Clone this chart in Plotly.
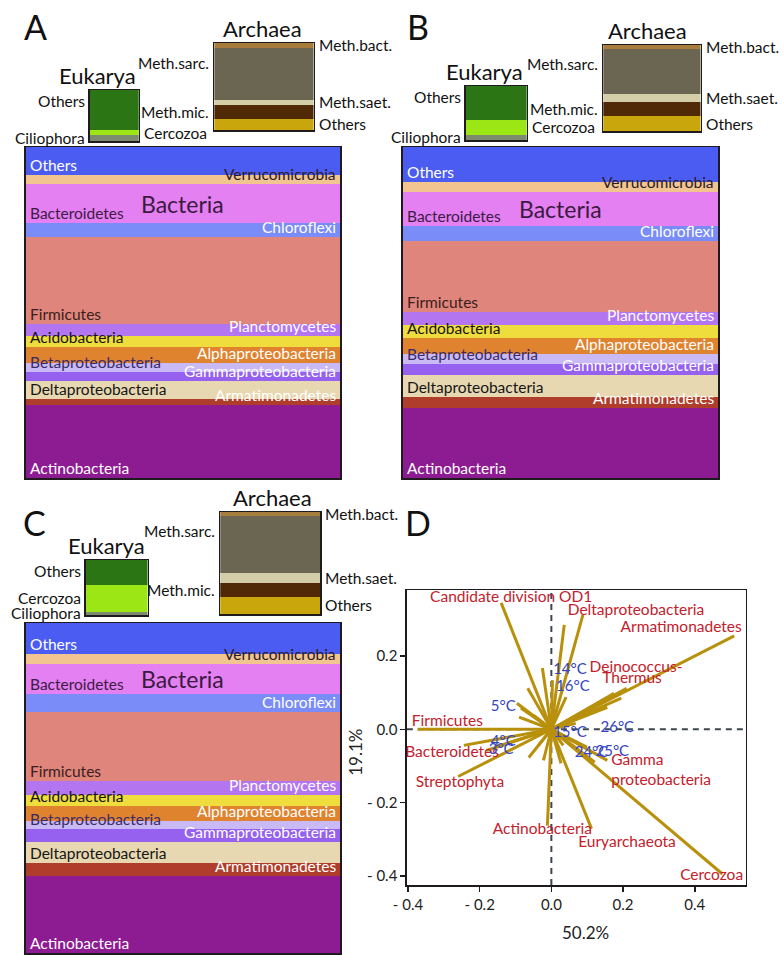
import plotly.graph_objects as go

W, H = 784, 955
FONT = "Lato"

# ---------------- data ----------------
bact_taxa = ["Others", "Verrucomicrobia", "Bacteroidetes", "Chloroflexi", "Firmicutes",
             "Planctomycetes", "Acidobacteria", "Alphaproteobacteria", "Betaproteobacteria",
             "Gammaproteobacteria", "Deltaproteobacteria", "Armatimonadetes", "Actinobacteria"]
bact_A = [8.5, 2.7, 11.8, 4.2, 26.3, 3.6, 3.3, 4.8, 2.7, 2.7, 5.4, 1.8, 22.2]
bact_B = [10.6, 3.0, 10.3, 4.5, 21.5, 3.9, 3.9, 4.8, 3.0, 3.3, 6.6, 3.6, 21.0]
bact_C = [9.4, 3.0, 9.1, 5.5, 20.9, 4.2, 3.3, 4.5, 2.4, 4.2, 6.1, 4.2, 23.2]
bact_colors = ["#4b5cf2", "#f1c490", "#e480f1", "#7a8cf8", "#e0857b", "#b475f1", "#eedd3c",
               "#e0832f", "#c9baf6", "#9561ee", "#e7d8b1", "#b03d2b", "#8d1b91"]
bact_side = ["left", "right", "left", "right", "left", "right", "left", "right", "left",
             "right", "left", "right", "left"]
bact_text_color = ["#ffffff", "#2a1a2a", "#3c1a46", "#ffffff", "#3a2020", "#ffffff", "#151515",
                   "#ffffff", "#3a2a6a", "#ffffff", "#151515", "#ffffff", "#ffffff"]

euk_taxa = ["Others", "Cercozoa", "Ciliophora"]
euk_A = [79, 10, 11]
euk_B = [63, 27, 10]
euk_C = [45, 49, 6]
euk_colors = ["#2b7515", "#9de615", "#7d8c6e"]

arch_taxa = ["Meth.bact.", "Meth.sarc.", "Meth.saet.", "Meth.mic.", "Others"]
arch_A = [5.7, 59.8, 5.7, 16.1, 12.7]
arch_B = [4.7, 52.3, 9.3, 16.3, 17.4]
arch_C = [3.9, 55.9, 9.8, 13.7, 16.7]
arch_colors = ["#a77d3d", "#6b6651", "#d3cda8", "#502906", "#c9a70c"]

# PCA biplot (panel D)
arrow_x = [-0.140, 0.088, 0.510, 0.210, -0.373, -0.244, -0.260, -0.011, 0.112, 0.477, 0.156,
           0.036, -0.025, -0.066, -0.085, -0.090, -0.096, 0.003, 0.195, 0.156, -0.181, -0.063,
           0.027, 0.099, 0.121, 0.068, 0.041, -0.159, -0.049, -0.036, 0.033, -0.022, 0.175]
arrow_y = [0.345, 0.312, 0.255, 0.112, 0.000, -0.044, -0.129, -0.263, -0.271, -0.395, -0.085,
           0.285, 0.167, 0.112, 0.058, 0.033, 0.071, 0.134, 0.085, 0.060, -0.058, -0.077,
           -0.093, -0.049, -0.090, 0.016, 0.088, -0.049, 0.038, -0.044, -0.044, -0.085, 0.098]

species_labels = ["Candidate division OD1", "Deltaproteobacteria", "Armatimonadetes",
                  "Deinococcus-", "Thermus", "Firmicutes", "Bacteroidetes", "Streptophyta",
                  "Actinobacteria", "Euryarchaeota", "Cercozoa"]
species_lx = [-0.112, 0.236, 0.362, 0.236, 0.225, -0.290, -0.277, -0.255, -0.025, 0.211, 0.447]
species_ly = [0.359, 0.321, 0.277, 0.167, 0.137, 0.019, -0.066, -0.148, -0.274, -0.310, -0.400]
gamma_labels = ["Gamma", "proteobacteria"]
gamma_lx = [0.167, 0.167]
gamma_ly = [-0.088, -0.142]

site_labels = ["14°C", "16°C", "5°C", "26°C", "15°C", "4°C", "3°C", "24°C", "25°C"]
site_x = [0.052, 0.060, -0.134, 0.184, 0.052, -0.134, -0.140, 0.112, 0.170]
site_y = [0.162, 0.115, 0.060, 0.003, -0.011, -0.036, -0.058, -0.066, -0.063]

x_ticks = [-0.4, -0.2, 0.0, 0.2, 0.4]
x_ticktext = ["- 0.4", "- 0.2", "0.0", "0.2", "0.4"]
y_ticks = [-0.4, -0.2, 0.0, 0.2]
y_ticktext = ["- 0.4", "- 0.2", "0.0", "0.2"]
x_title = "50.2%"
y_title = "19.1%"

# ---------------- layout boxes (pixels: x0, x1, y0, y1) ----------------
panels = {
    "A": dict(letter=(22, 26), euk=(77, 127, 90, 141), arch=(204, 305, 43, 130), bact=(12, 332, 147, 478),
              euk_sides=["left", "right", "left"], euk_title_dx=-17, arch_title_dx=-1),
    "B": dict(letter=(411, 26), euk=(460, 522, 86, 140), arch=(600, 699, 45, 131), bact=(396, 717, 147, 478),
              euk_sides=["left", "right", "left"], euk_title_dx=-12, arch_title_dx=-4),
    "C": dict(letter=(21, 522), euk=(73, 136, 560, 615), arch=(210, 312, 512, 614), bact=(12, 332, 623, 953),
              euk_sides=["left", "left", "left"], euk_title_dx=-10, arch_title_dx=2),
}
data_map = {"A": (bact_A, euk_A, arch_A), "B": (bact_B, euk_B, arch_B), "C": (bact_C, euk_C, arch_C)}

fig = go.Figure()
annotations = []
layout_axes = {}
counter = [0]
FRAME = "#1e1a1e"


def new_axes(box):
    counter[0] += 1
    i = counter[0]
    s = "" if i == 1 else str(i)
    x0, x1, y0, y1 = box
    return s, [x0 / W, x1 / W], [1 - y1 / H, 1 - y0 / H]


def add_stack(box, taxa, values, colors):
    s, xd, yd = new_axes(box)
    total = sum(values)
    for t, v, c in reversed(list(zip(taxa, values, colors))):
        fig.add_trace(go.Bar(x=[0], y=[v], width=1, name=t, marker=dict(color=c, line=dict(width=0)),
                             xaxis="x" + s, yaxis="y" + s, showlegend=False, hoverinfo="skip"))
    layout_axes["xaxis" + s] = dict(domain=xd, range=[-0.5, 0.5], showticklabels=False, ticks="",
                                    showgrid=False, zeroline=False, showline=True, mirror=True,
                                    linecolor=FRAME, linewidth=1.5, anchor="y" + s, fixedrange=True)
    layout_axes["yaxis" + s] = dict(domain=yd, range=[0, total], showticklabels=False, ticks="",
                                    showgrid=False, zeroline=False, showline=True, mirror=True,
                                    linecolor=FRAME, linewidth=1.5, anchor="x" + s, fixedrange=True)
    tops, acc = [], total
    for v in values:
        tops.append(acc)
        acc -= v
    bottoms = [t - v for t, v in zip(tops, values)]
    return s, tops, bottoms


def ann(text, xref, yref, x, y, size, color, xanchor="center", yanchor="middle", xshift=0, yshift=0, angle=0):
    annotations.append(dict(text=text, xref=xref, yref=yref, x=x, y=y, showarrow=False,
                            font=dict(family=FONT, size=size, color=color), xanchor=xanchor,
                            yanchor=yanchor, xshift=xshift, yshift=yshift, textangle=angle))


LBL = 15.5
for key, p in panels.items():
    bvals, evals, avals = data_map[key]
    lx, ly = p["letter"]
    ann(key, "paper", "paper", lx / W, 1 - ly / H, 34, "#111111")

    # Bacteria
    s, tops, bottoms = add_stack(p["bact"], bact_taxa, bvals, bact_colors)
    for t, side, col, b in zip(bact_taxa, bact_side, bact_text_color, bottoms):
        if side == "left":
            ann(t, "x" + s + " domain", "y" + s, 0, b, LBL, col, "left", "bottom", 2, -1)
        else:
            ann(t, "x" + s + " domain", "y" + s, 1, b, LBL, col, "right", "bottom", -2, -1)
    bi = bact_taxa.index("Bacteroidetes")
    ann("Bacteria", "x" + s + " domain", "y" + s, 0.5, (tops[bi] + bottoms[bi]) / 2, 23, "#3a1a40")

    # Eukarya
    s, tops, bottoms = add_stack(p["euk"], euk_taxa, evals, euk_colors)
    ann("Eukarya", "x" + s + " domain", "y" + s + " domain", 0.5, 1, 22, "#111111", "center", "bottom",
        p["euk_title_dx"], -1)
    for t, side, tp, b in zip(euk_taxa, p["euk_sides"], tops, bottoms):
        xa = "right" if side == "left" else "left"
        xx = 0 if side == "left" else 1
        xs = -3 if side == "left" else 3
        if t == "Others":
            ann(t, "x" + s + " domain", "y" + s, xx, tp, LBL, "#111111", xa, "top", xs, 0)
        else:
            ann(t, "x" + s + " domain", "y" + s, xx, (tp + b) / 2, LBL, "#111111", xa, "middle", xs, 0)

    # Archaea
    s, tops, bottoms = add_stack(p["arch"], arch_taxa, avals, arch_colors)
    ann("Archaea", "x" + s + " domain", "y" + s + " domain", 0.5, 1, 22, "#111111", "center", "bottom",
        p["arch_title_dx"], -1)
    arch_side = ["right", "left", "right", "left", "right"]
    for t, side, tp, b in zip(arch_taxa, arch_side, tops, bottoms):
        xa = "right" if side == "left" else "left"
        xx = 0 if side == "left" else 1
        xs = -3 if side == "left" else 3
        if t == "Meth.sarc.":
            ann(t, "x" + s + " domain", "y" + s, xx, tp, LBL, "#111111", xa, "top", xs, -4)
        else:
            ann(t, "x" + s + " domain", "y" + s, xx, (tp + b) / 2, LBL, "#111111", xa, "middle", xs, 0)

# ---------------- Panel D ----------------
s, xd, yd = new_axes((400, 745, 590, 885))
ann("D", "paper", "paper", 411 / W, 1 - 522 / H, 34, "#111111")
lx, ly = [], []
for ex, ey in zip(arrow_x, arrow_y):
    lx += [0, ex, None]
    ly += [0, ey, None]
fig.add_trace(go.Scatter(x=lx, y=ly, mode="lines", line=dict(color="#b8900c", width=3),
                         xaxis="x" + s, yaxis="y" + s, showlegend=False, hoverinfo="skip"))
fig.add_trace(go.Scatter(x=species_lx, y=species_ly, text=species_labels, mode="text",
                         textfont=dict(family=FONT, size=15.5, color="#c4202b"),
                         xaxis="x" + s, yaxis="y" + s, showlegend=False, hoverinfo="skip"))
fig.add_trace(go.Scatter(x=gamma_lx, y=gamma_ly, text=gamma_labels, mode="text", textposition="middle right",
                         textfont=dict(family=FONT, size=15.5, color="#c4202b"),
                         xaxis="x" + s, yaxis="y" + s, showlegend=False, hoverinfo="skip"))
fig.add_trace(go.Scatter(x=site_x, y=site_y, text=site_labels, mode="text",
                         textfont=dict(family=FONT, size=15, color="#3344c4"),
                         xaxis="x" + s, yaxis="y" + s, showlegend=False, hoverinfo="skip"))

layout_axes["xaxis" + s] = dict(domain=xd, range=[-0.403, 0.542], tickvals=x_ticks, ticktext=x_ticktext,
                                ticks="outside", ticklen=5, tickwidth=1.5, tickcolor=FRAME,
                                showgrid=False, zeroline=False, showline=True, mirror=True,
                                linecolor=FRAME, linewidth=1.5, anchor="y" + s,
                                tickfont=dict(family=FONT, size=15, color="#222222"))
layout_axes["yaxis" + s] = dict(domain=yd, range=[-0.425, 0.38], tickvals=y_ticks, ticktext=y_ticktext,
                                ticks="outside", ticklen=5, tickwidth=1.5, tickcolor=FRAME,
                                showgrid=False, zeroline=False, showline=True, mirror=True,
                                linecolor=FRAME, linewidth=1.5, anchor="x" + s,
                                tickfont=dict(family=FONT, size=15, color="#222222"))
shapes = [
    dict(type="line", xref="x" + s + " domain", yref="y" + s, x0=0, x1=1, y0=0, y1=0,
         line=dict(color="#3d474e", width=2, dash="6px,5px"), layer="below"),
    dict(type="line", xref="x" + s, yref="y" + s + " domain", x0=0, x1=0, y0=0, y1=1,
         line=dict(color="#3d474e", width=2, dash="6px,5px"), layer="below"),
]
ann(x_title, "paper", "paper", 582 / W, 1 - 932 / H, 17, "#222222")
ann(y_title, "paper", "paper", 347 / W, 1 - 752 / H, 17, "#222222", angle=-90)

fig.update_layout(width=W, height=H, margin=dict(l=0, r=0, t=0, b=0), paper_bgcolor="white",
                  plot_bgcolor="rgba(0,0,0,0)", barmode="stack", showlegend=False,
                  annotations=annotations, shapes=shapes, **layout_axes)
fig.write_html("out.html", config={"displayModeBar": False, "staticPlot": True},
               post_script="document.documentElement.style.margin='0';document.body.style.margin='0';"
                           "document.body.style.padding='0';document.body.style.overflow='hidden';")
